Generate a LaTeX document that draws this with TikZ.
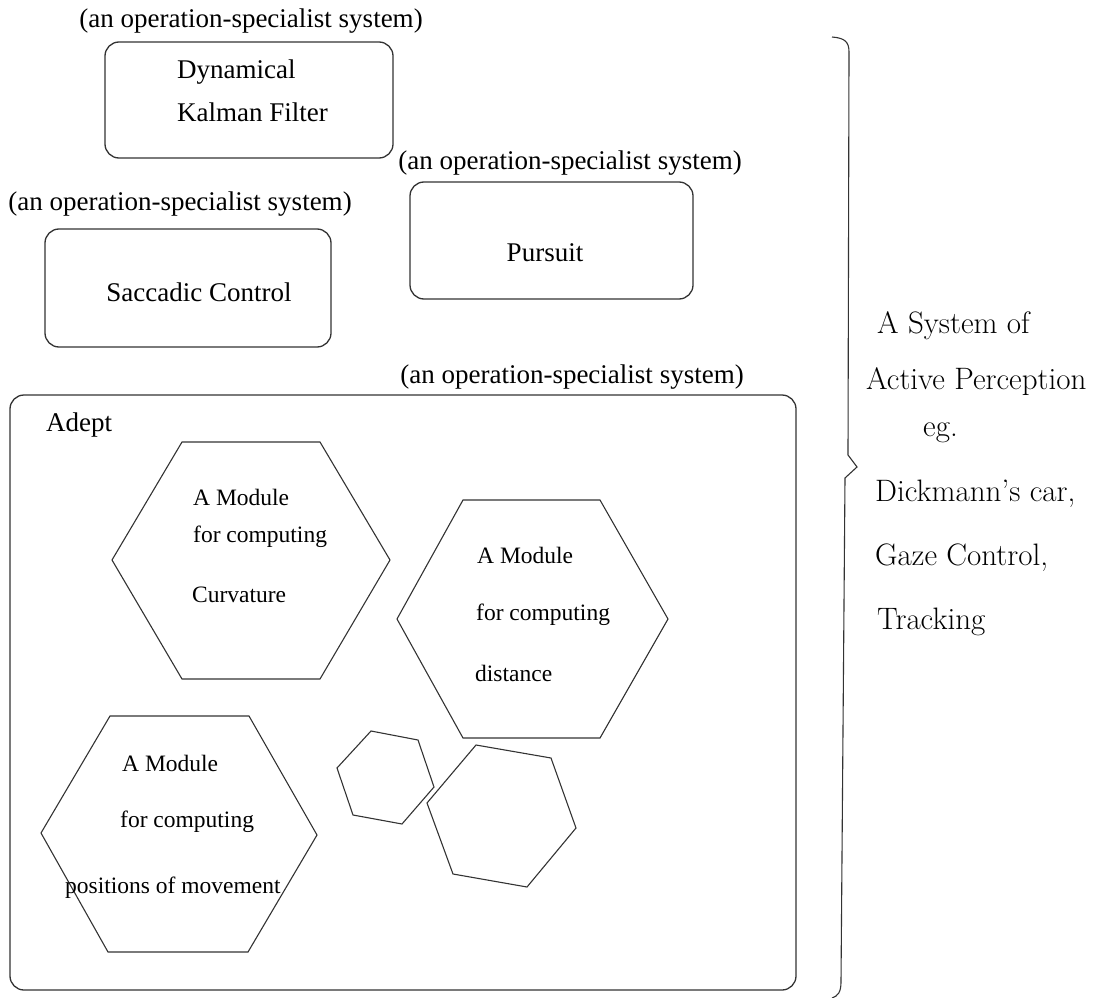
\documentclass[tikz,border=0pt]{standalone}
\usepackage{fontspec}
\setmainfont{Liberation Serif}
\begin{document}
\begin{tikzpicture}[x=1pt,y=-1pt,
  frame/.style={draw=black!80, line width=1.3pt, rounded corners=14pt, inner sep=0pt},
  hexa/.style={draw=black!80, line width=1.1pt, line join=miter},
  bracket/.style={draw=black!80, line width=1.1pt},
  lbl/.style={font=\fontsize{27}{32}\selectfont, inner sep=0pt},
  modtxt/.style={font=\fontsize{23.5}{28}\selectfont, inner sep=0pt, anchor=west},
  sidetxt/.style={font=\fontfamily{lmr}\fontsize{31}{36}\selectfont, inner sep=0pt, anchor=west}]

\useasboundingbox (0,0) rectangle (1095,998);

% operation-specialist systems
\node[frame, minimum width=288pt, minimum height=116pt] (kalman) at (249,100) {};
\node[frame, minimum width=286pt, minimum height=118pt] (saccade) at (188,288) {};
\node[frame, minimum width=283pt, minimum height=117pt] (pursuit) at (551.5,240.5) {};
\node[frame, minimum width=786pt, minimum height=595pt] (adept) at (403,692.5) {};

\node[lbl] (kalmanlbl) at (251,21) {(an operation-specialist system)};
\node[lbl] (pursuitlbl) at (570,163) {(an operation-specialist system)};
\node[lbl] (saccadelbl) at (180,204) {(an operation-specialist system)};
\node[lbl] (adeptlbl) at (572,377) {(an operation-specialist system)};

\node[lbl, anchor=west] (kalmanA) at (177,72) {Dynamical};
\node[lbl, anchor=west] (kalmanB) at (177,112) {Kalman Filter};
\node[lbl] (saccadetxt) at (199,292) {Saccadic Control};
\node[lbl] (pursuittxt) at (545,253) {Pursuit};
\node[lbl, anchor=west] (adepttxt) at (46,425) {Adept};

% modules inside Adept
\draw[hexa] (112,560) -- (182,442) -- (320,442) -- (390,560) -- (320,679) -- (182,679) -- cycle;
\draw[hexa] (397,619) -- (463,500) -- (600,500) -- (668,619) -- (600,738) -- (463,738) -- cycle;
\draw[hexa] (41,833) -- (110,716) -- (249,716) -- (317,835) -- (248,952) -- (108,952) -- cycle;
\draw[hexa] (371,731) -- (418,740) -- (434,787) -- (402,824) -- (353,815) -- (337,768) -- cycle;
\draw[hexa] (476,745) -- (551,758) -- (576,828) -- (527,887) -- (453,874) -- (427,803) -- cycle;

\node[modtxt] (curvA) at (193,497) {A Module};
\node[modtxt] (curvB) at (193,537) {for computing};
\node[modtxt] (curvC) at (192,595) {Curvature};

\node[modtxt] (distA) at (477,555) {A Module};
\node[modtxt] (distB) at (476,615) {for computing};
\node[modtxt] (distC) at (475,673) {distance};

\node[modtxt] (posA) at (122,763) {A Module};
\node[modtxt] (posB) at (120,822) {for computing};
\node[modtxt] (posC) at (65,888) {positions of movement};

% brace grouping everything
\draw[bracket] (832,37) .. controls (845,38) and (849,42) .. (849,52) -- (848,455) -- (857,467) -- (845,478) -- (841,982) .. controls (841,992) and (838,996) .. (832,998);

\node[sidetxt] (sysA) at (877,326) {A System of};
\node[sidetxt] (sysB) at (866,382) {Active Perception};
\node[sidetxt] (sysC) at (923,433) {eg.};
\node[sidetxt] (sysD) at (875,494) {Dickmann’s car,};
\node[sidetxt] (sysE) at (875,558) {Gaze Control,};
\node[sidetxt] (sysF) at (877,622) {Tracking};
\end{tikzpicture}
\end{document}
